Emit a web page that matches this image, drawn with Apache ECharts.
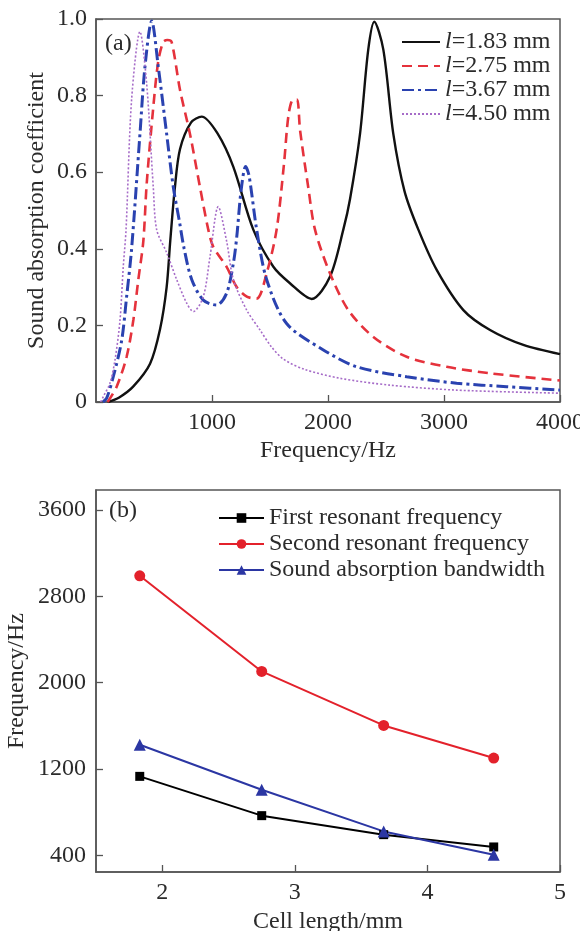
<!DOCTYPE html>
<html>
<head>
<meta charset="utf-8">
<script src="https://cdn.jsdelivr.net/npm/echarts@6/dist/echarts.min.js"></script>
<style>
  html, body { margin: 0; padding: 0; background: #fff; }
  #main { width: 580px; height: 931px; }
</style>
</head>
<body>
<div id="main"></div>
<script>
// (a) absorption curves, frequency in Hz
var freq183 = [100, 200, 320, 466, 552, 609, 640, 680, 724, 820, 911, 1050, 1184, 1356, 1529, 1672, 1859, 2017, 2132, 2190, 2276, 2347, 2399, 2477, 2563, 2660, 2779, 2937, 3167, 3397, 3684, 4000];
var abs183  = [0, 0.012, 0.04, 0.10, 0.19, 0.30, 0.42, 0.56, 0.66, 0.73, 0.745, 0.70, 0.614, 0.45, 0.353, 0.31, 0.269, 0.327, 0.45, 0.53, 0.70, 0.92, 0.993, 0.92, 0.70, 0.55, 0.45, 0.345, 0.24, 0.188, 0.149, 0.125];

var freq275 = [100, 178, 264, 322, 365, 408, 437, 494, 537, 580, 615, 652, 724, 810, 897, 968, 1011, 1126, 1213, 1300, 1385, 1471, 1557, 1620, 1660, 1700, 1733, 1759, 1830, 1888, 2017, 2175, 2391, 2678, 3023, 3397, 4000];
var abs275  = [0, 0.04, 0.118, 0.214, 0.32, 0.42, 0.57, 0.77, 0.89, 0.94, 0.945, 0.94, 0.815, 0.70, 0.56, 0.45, 0.405, 0.353, 0.30, 0.275, 0.27, 0.336, 0.45, 0.62, 0.75, 0.79, 0.79, 0.71, 0.56, 0.45, 0.336, 0.24, 0.17, 0.118, 0.092, 0.075, 0.056];

var freq367 = [60, 92, 149, 221, 264, 307, 379, 422, 480, 537, 609, 667, 720, 760, 825, 925, 1040, 1126, 1184, 1213, 1250, 1290, 1320, 1385, 1471, 1643, 1960, 2247, 2678, 3109, 3540, 4000];
var abs367  = [0, 0.01, 0.066, 0.16, 0.275, 0.40, 0.70, 0.875, 0.995, 0.875, 0.70, 0.56, 0.47, 0.40, 0.32, 0.266, 0.253, 0.284, 0.362, 0.43, 0.55, 0.615, 0.59, 0.45, 0.32, 0.205, 0.136, 0.092, 0.066, 0.049, 0.04, 0.031];

var freq450 = [40, 63, 120, 164, 207, 235, 259, 307, 379, 437, 494, 523, 609, 695, 782, 839, 925, 983, 1054, 1126, 1184, 1299, 1414, 1510, 1615, 1800, 2103, 2534, 3109, 4000];
var abs450  = [0, 0.014, 0.049, 0.11, 0.214, 0.353, 0.45, 0.79, 0.967, 0.83, 0.56, 0.45, 0.39, 0.32, 0.258, 0.236, 0.275, 0.38, 0.51, 0.42, 0.32, 0.24, 0.188, 0.145, 0.112, 0.085, 0.062, 0.044, 0.031, 0.023];

// (b) resonant frequencies vs cell length
var cellLength = [1.83, 2.75, 3.67, 4.50];
var firstRes   = [1132, 768, 592, 478];
var secondRes  = [2990, 2104, 1604, 1302];
var bandwidth  = [1425, 1008, 622, 406];

var yTicksB = [400, 1200, 2000, 2800, 3600];
var xTicksB = [2, 3, 4, 5];

function pairs(xs, ys) {
  return xs.map(function (x, i) { return [x, ys[i]]; });
}

var FONT = '"Liberation Serif", "Times New Roman", serif';
var FS = 24;
var TXT = '#2b2b2b';
var AX = '#555';

var axisCommon = {
  nameMoveOverlap: false,
  axisLine: { show: true, onZero: false, lineStyle: { color: AX, width: 1.5 } },
  axisTick: { show: true, inside: true, length: 7, lineStyle: { color: AX, width: 1.3 } },
  splitLine: { show: false },
  axisLabel: { color: TXT, fontFamily: FONT, fontSize: FS, formatter: function (v) { return String(v); } },
  nameTextStyle: { color: TXT, fontFamily: FONT, fontSize: FS }
};

function ax(extra) {
  var o = {
    nameMoveOverlap: false,
    axisLine: axisCommon.axisLine,
    axisTick: Object.assign({}, axisCommon.axisTick),
    splitLine: axisCommon.splitLine,
    axisLabel: Object.assign({}, axisCommon.axisLabel),
    nameTextStyle: axisCommon.nameTextStyle
  };
  for (var k in extra) {
    if (k === 'axisLabel' || k === 'axisTick') Object.assign(o[k], extra[k]);
    else o[k] = extra[k];
  }
  return o;
}

var myChart = echarts.init(document.getElementById('main'));
myChart.setOption({
  backgroundColor: '#fff',
  animation: false,
  title: [
    { text: '(a)', left: 100, top: 27, textStyle: { color: TXT, fontFamily: FONT, fontSize: FS, fontWeight: 'normal' } },
    { text: '(b)', left: 104, top: 494, textStyle: { color: TXT, fontFamily: FONT, fontSize: FS, fontWeight: 'normal' } }
  ],
  grid: [
    { left: 96, top: 19, width: 464, height: 383, show: true, borderColor: AX, borderWidth: 1.5, outerBoundsMode: 'none' },
    { left: 96, top: 490, width: 464, height: 382, show: true, borderColor: AX, borderWidth: 1.5, outerBoundsMode: 'none' }
  ],
  legend: [
    {
      data: ['l=1.83 mm', 'l=2.75 mm', 'l=3.67 mm', 'l=4.50 mm'],
      orient: 'vertical', left: 396, top: 25,
      itemWidth: 38, itemHeight: 12, itemGap: 0,
      itemStyle: { opacity: 0 },
      formatter: function (name) { return '{i|l}' + name.slice(1); },
      textStyle: {
        color: TXT, fontFamily: FONT, fontSize: FS, lineHeight: 24,
        rich: { i: { fontStyle: 'italic', fontFamily: FONT, fontSize: FS, color: TXT } }
      }
    },
    {
      data: ['First resonant frequency', 'Second resonant frequency', 'Sound absorption bandwidth'],
      orient: 'vertical', left: 213, top: 501,
      itemWidth: 45, itemHeight: 12, itemGap: 2,
      textStyle: { color: TXT, fontFamily: FONT, fontSize: FS, lineHeight: 24 }
    }
  ],
  xAxis: [
    ax({
      gridIndex: 0, type: 'value', min: 0, max: 4000, interval: 1000,
      name: 'Frequency/Hz', nameLocation: 'middle', nameGap: 37,
      axisLabel: { margin: 9, showMinLabel: false }
    }),
    ax({
      gridIndex: 1, type: 'value', min: 1.5, max: 5,
      name: 'Cell length/mm', nameLocation: 'middle', nameGap: 38,
      axisLabel: { margin: 9, customValues: xTicksB },
      axisTick: { customValues: xTicksB }
    })
  ],
  yAxis: [
    ax({
      gridIndex: 0, type: 'value', min: 0, max: 1.0, interval: 0.2,
      name: 'Sound absorption coefficient', nameLocation: 'middle', nameGap: 47,
      axisLabel: { margin: 9, formatter: function (v) { return v === 0 ? '0' : v.toFixed(1); } }
    }),
    ax({
      gridIndex: 1, type: 'value', min: 246, max: 3785,
      name: 'Frequency/Hz', nameLocation: 'middle', nameGap: 67,
      axisLabel: { margin: 10, customValues: yTicksB },
      axisTick: { customValues: yTicksB }
    })
  ],
  series: [
    {
      name: 'l=1.83 mm', type: 'line', xAxisIndex: 0, yAxisIndex: 0,
      data: pairs(freq183, abs183), smooth: 0.3, symbol: 'none',
      lineStyle: { color: '#111', width: 2.4 }, itemStyle: { color: '#111' }
    },
    {
      name: 'l=2.75 mm', type: 'line', xAxisIndex: 0, yAxisIndex: 0,
      data: pairs(freq275, abs275), smooth: 0.3, symbol: 'none',
      lineStyle: { color: '#e5323c', width: 2.6, type: [10, 6] }, itemStyle: { color: '#e5323c' }
    },
    {
      name: 'l=3.67 mm', type: 'line', xAxisIndex: 0, yAxisIndex: 0,
      data: pairs(freq367, abs367), smooth: 0.3, symbol: 'none',
      lineStyle: { color: '#2a42b0', width: 3, type: [12, 4, 3, 4] }, itemStyle: { color: '#2a42b0' }
    },
    {
      name: 'l=4.50 mm', type: 'line', xAxisIndex: 0, yAxisIndex: 0,
      data: pairs(freq450, abs450), smooth: 0.3, symbol: 'none',
      lineStyle: { color: '#a66cc8', width: 1.6, type: [2, 2] }, itemStyle: { color: '#a66cc8' }
    },
    {
      name: 'First resonant frequency', type: 'line', xAxisIndex: 1, yAxisIndex: 1,
      data: pairs(cellLength, firstRes), symbol: 'rect', symbolSize: 9,
      lineStyle: { color: '#000', width: 2 }, itemStyle: { color: '#000' }
    },
    {
      name: 'Second resonant frequency', type: 'line', xAxisIndex: 1, yAxisIndex: 1,
      data: pairs(cellLength, secondRes), symbol: 'circle', symbolSize: 11,
      lineStyle: { color: '#e3212b', width: 2 }, itemStyle: { color: '#e3212b' }
    },
    {
      name: 'Sound absorption bandwidth', type: 'line', xAxisIndex: 1, yAxisIndex: 1,
      data: pairs(cellLength, bandwidth), symbol: 'triangle', symbolSize: 12,
      lineStyle: { color: '#2b36a3', width: 2 }, itemStyle: { color: '#2b36a3' }
    }
  ]
});
</script>
</body>
</html>
